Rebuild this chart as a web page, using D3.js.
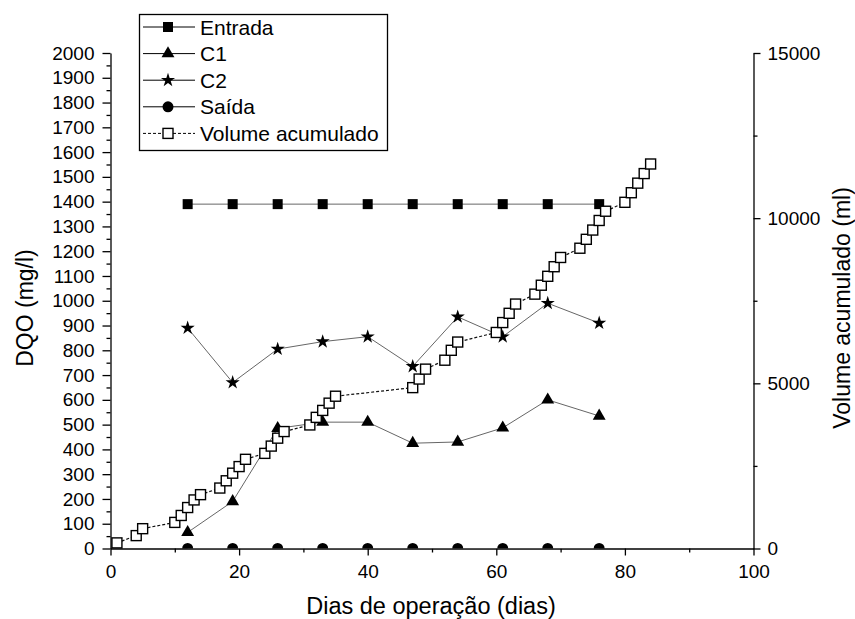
<!DOCTYPE html>
<html><head><meta charset="utf-8">
<script src="https://cdn.jsdelivr.net/npm/d3@7"></script>
<style>
html,body{margin:0;padding:0;background:#fff;}
text{font-family:"Liberation Sans",Arial,sans-serif;fill:#000;}
</style></head>
<body>
<svg id="chart" width="855" height="619"></svg>
<script>
// ---- data ----
const days = [12, 19, 26, 33, 40, 47, 54, 61, 68, 76];
const entrada = [1390, 1390, 1390, 1390, 1390, 1390, 1390, 1390, 1390, 1390];
const c1 = [65, 190, 485, 510, 510, 425, 430, 487, 600, 535];
const c2 = [890, 670, 805, 835, 855, 735, 935, 855, 990, 910];
const saida = [0, 0, 0, 0, 0, 0, 0, 0, 0, 0];
const volDays = [1, 4, 5, 10, 11, 12, 13, 14, 17, 18, 19, 20, 21, 24, 25, 26, 27, 31, 32, 33, 34, 35,
  47, 48, 49, 52, 53, 54, 60, 61, 62, 63, 66, 67, 68, 69, 70, 73, 74, 75, 76, 77, 80, 81, 82, 83, 84];
const volume = [170, 390, 600, 790, 1000, 1240, 1470, 1630, 1830, 2050, 2280, 2480, 2700, 2880, 3100, 3340, 3540,
  3740, 3970, 4180, 4400, 4610, 4870, 5130, 5430, 5700, 6000, 6250, 6540, 6840, 7120, 7400,
  7700, 7970, 8240, 8530, 8810, 9090, 9360, 9640, 9930, 10210, 10480, 10770, 11060, 11350, 11640];
const xTicks = [0, 20, 40, 60, 80, 100];
const yLeftTicks = d3.range(0, 2001, 100);
const yRightTicks = [0, 5000, 10000, 15000];
const legendLabels = ["Entrada", "C1", "C2", "Saída", "Volume acumulado"];
const xTitle = "Dias de operação (dias)";
const yLeftTitle = "DQO (mg/l)";
const yRightTitle = "Volume acumulado (ml)";

// ---- layout ----
const svg = d3.select("#chart");
const L = 110.5, R = 753.5, T = 53, B = 548.5;
const x = d3.scaleLinear().domain([0, 100]).range([L, R]);
const yL = d3.scaleLinear().domain([0, 2000]).range([B, T]);
const yR = d3.scaleLinear().domain([0, 15000]).range([B, T]);

svg.append("defs").append("clipPath").attr("id", "plotclip")
  .append("rect").attr("x", L - 20).attr("y", 0).attr("width", R - L + 40).attr("height", B);

// axes
const fs = "19px";
function styleAxis(g) {
  g.selectAll(".domain").attr("stroke", "#000").attr("stroke-width", 1.3);
  g.selectAll(".tick line").attr("stroke", "#000").attr("stroke-width", 1.3);
  g.selectAll("text").style("font-size", fs).attr("fill", "#000");
}
// minor ticks
const gxMinor = svg.append("g").attr("transform", `translate(0,${B})`)
  .call(d3.axisBottom(x).tickValues(d3.range(10, 100, 20)).tickSize(4).tickFormat(""));
gxMinor.select(".domain").remove();
gxMinor.selectAll("line").attr("stroke", "#000").attr("stroke-width", 1.3);
const gx = svg.append("g").attr("transform", `translate(0,${B})`)
  .call(d3.axisBottom(x).tickValues(xTicks).tickSize(7).tickPadding(9).tickSizeOuter(0));
styleAxis(gx);

const gyMinor = svg.append("g").attr("transform", `translate(${L},0)`)
  .call(d3.axisLeft(yL).tickValues(d3.range(50, 2000, 100)).tickSize(4).tickFormat(""));
gyMinor.select(".domain").remove();
gyMinor.selectAll("line").attr("stroke", "#000").attr("stroke-width", 1.3);
const gy = svg.append("g").attr("transform", `translate(${L},0)`)
  .call(d3.axisLeft(yL).tickValues(yLeftTicks).tickSize(8).tickPadding(8).tickSizeOuter(0).tickFormat(d3.format("d")));
styleAxis(gy);

const grMinor = svg.append("g").attr("transform", `translate(${R},0)`)
  .call(d3.axisRight(yR).tickValues([2500, 7500, 12500]).tickSize(4).tickFormat(""));
grMinor.select(".domain").remove();
grMinor.selectAll("line").attr("stroke", "#000").attr("stroke-width", 1.3);
const gr = svg.append("g").attr("transform", `translate(${R},0)`)
  .call(d3.axisRight(yR).tickValues(yRightTicks).tickSize(7).tickPadding(7).tickSizeOuter(0).tickFormat(d3.format("d")));
styleAxis(gr);

// titles
svg.append("text").attr("x", 431).attr("y", 614).attr("text-anchor", "middle")
  .style("font-size", "23.5px").text(xTitle);
svg.append("text").attr("transform", `translate(33,308) rotate(-90)`).attr("text-anchor", "middle")
  .style("font-size", "23px").text(yLeftTitle);
svg.append("text").attr("transform", `translate(850,308) rotate(-90)`).attr("text-anchor", "middle")
  .style("font-size", "23px").text(yRightTitle);

// ---- series ----
const lineCol = "#666";
function drawLine(vals, scaleY, xs, opts) {
  const line = d3.line().x((d, i) => x(xs[i])).y(d => scaleY(d));
  const p = svg.append("path").datum(vals).attr("d", line).attr("fill", "none")
    .attr("stroke", opts.color).attr("stroke-width", opts.width);
  if (opts.dash) p.attr("stroke-dasharray", opts.dash);
  return p;
}
const symTri = d3.symbol().type(d3.symbolTriangle).size(72);
const symStar = d3.symbol().type(d3.symbolStar).size(62);
const symCirc = d3.symbol().type(d3.symbolCircle).size(95);

// Saída (clipped at axis)
const gS = svg.append("g").attr("clip-path", "url(#plotclip)");
gS.append("path").datum(saida).attr("d", d3.line().x((d, i) => x(days[i])).y(d => yL(d)))
  .attr("fill", "none").attr("stroke", lineCol).attr("stroke-width", 1);
gS.selectAll("path.m").data(saida).enter().append("path").attr("class", "m")
  .attr("d", symCirc).attr("transform", (d, i) => `translate(${x(days[i])},${yL(d)})`).attr("fill", "#000");

// Entrada
drawLine(entrada, yL, days, {color: lineCol, width: 1});
svg.selectAll("rect.ent").data(entrada).enter().append("rect").attr("class", "ent")
  .attr("x", (d, i) => x(days[i]) - 5).attr("y", d => yL(d) - 5).attr("width", 10).attr("height", 10).attr("fill", "#000");

// C1
drawLine(c1, yL, days, {color: lineCol, width: 1});
svg.selectAll("path.c1").data(c1).enter().append("path").attr("class", "c1")
  .attr("d", symTri).attr("transform", (d, i) => `translate(${x(days[i])},${yL(d)})`).attr("fill", "#000");

// C2
drawLine(c2, yL, days, {color: lineCol, width: 1});
svg.selectAll("path.c2").data(c2).enter().append("path").attr("class", "c2")
  .attr("d", symStar).attr("transform", (d, i) => `translate(${x(days[i])},${yL(d)})`).attr("fill", "#000");

// Volume
drawLine(volume, yR, volDays, {color: "#111", width: 1.2, dash: "3,2"});
svg.selectAll("rect.vol").data(volume).enter().append("rect").attr("class", "vol")
  .attr("x", (d, i) => x(volDays[i]) - 5).attr("y", d => yR(d) - 5).attr("width", 10).attr("height", 10)
  .attr("fill", "#fff").attr("stroke", "#000").attr("stroke-width", 1.4);

// ---- legend ----
const lg = svg.append("g");
lg.append("rect").attr("x", 139.5).attr("y", 14.5).attr("width", 248).attr("height", 136)
  .attr("fill", "#fff").attr("stroke", "#000").attr("stroke-width", 1.3);
legendLabels.forEach((lab, i) => {
  const cy = 27 + i * 26.6;
  const ln = lg.append("line").attr("x1", 143).attr("x2", 195).attr("y1", cy).attr("y2", cy)
    .attr("stroke", "#000").attr("stroke-width", 1);
  const mx = 168;
  if (i === 0) lg.append("rect").attr("x", mx - 5).attr("y", cy - 5).attr("width", 10).attr("height", 10).attr("fill", "#000");
  if (i === 1) lg.append("path").attr("d", symTri).attr("transform", `translate(${mx},${cy})`).attr("fill", "#000");
  if (i === 2) lg.append("path").attr("d", symStar).attr("transform", `translate(${mx},${cy})`).attr("fill", "#000");
  if (i === 3) lg.append("path").attr("d", symCirc).attr("transform", `translate(${mx},${cy})`).attr("fill", "#000");
  if (i === 4) {
    ln.attr("stroke-dasharray", "3,2");
    lg.append("rect").attr("x", mx - 5).attr("y", cy - 5).attr("width", 10).attr("height", 10)
      .attr("fill", "#fff").attr("stroke", "#000").attr("stroke-width", 1.4);
  }
  lg.append("text").attr("x", 200).attr("y", cy).attr("dy", "0.36em").style("font-size", "21px").text(lab);
});
</script>
</body></html>
